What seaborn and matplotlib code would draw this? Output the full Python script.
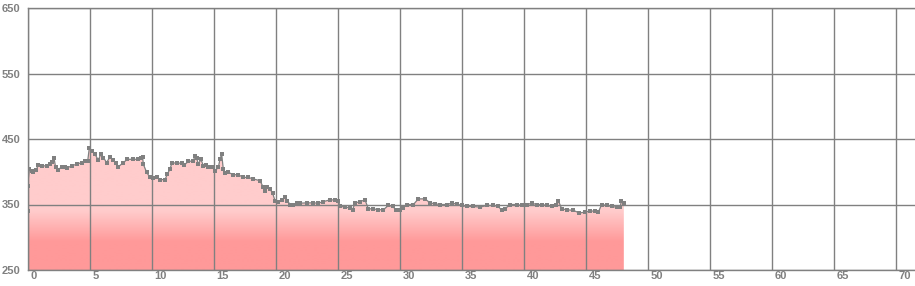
import numpy as np
import pandas as pd
import matplotlib
matplotlib.use("Agg")
import matplotlib.pyplot as plt
import matplotlib.transforms as mtransforms
from matplotlib.patches import Polygon
import seaborn as sns

# ---- data ----
x_vals = [0.0, 0.01, 0.15, 0.34, 0.47, 0.69, 0.87, 1.14, 1.55, 1.81, 2.0, 2.14, 2.27, 2.49,
          2.75, 3.02, 3.16, 3.56, 3.96, 4.37, 4.64, 4.85, 4.99, 5.17, 5.44, 5.71, 5.93, 6.12,
          6.38, 6.65, 6.92, 7.14, 7.33, 7.73, 8.05, 8.53, 8.94, 9.12, 9.28, 9.34, 9.61, 9.88,
          10.15, 10.42, 10.68, 11.09, 11.28, 11.49, 11.63, 12.03, 12.43, 12.65, 12.97, 13.37,
          13.51, 13.64, 13.78, 13.99, 14.18, 14.4, 14.58, 14.85, 15.12, 15.39, 15.52, 15.66,
          15.79, 15.93, 16.2, 16.6, 17.0, 17.4, 17.8, 18.21, 18.75, 19.02, 19.15, 19.29, 19.56,
          19.77, 19.96, 20.23, 20.5, 20.77, 20.96, 21.17, 21.4, 21.7, 21.98, 22.51, 23.05,
          23.45, 23.86, 24.4, 24.8, 25.07, 25.2, 25.6, 26.0, 26.22, 26.4, 26.8, 27.22, 27.49,
          27.89, 28.29, 28.7, 29.1, 29.5, 29.69, 30.04, 30.3, 30.58, 31.12, 31.52, 32.06,
          32.46, 32.86, 33.27, 33.8, 34.2, 34.6, 35.0, 35.42, 35.96, 36.5, 37.03, 37.57,
          37.98, 38.24, 38.51, 38.92, 39.46, 39.86, 40.27, 40.67, 41.07, 41.48, 41.88, 42.28,
          42.63, 42.82, 43.09, 43.49, 44.03, 44.51, 44.97, 45.37, 45.77, 46.04, 46.3, 46.71,
          47.11, 47.52, 47.79, 47.9, 48.09]
y_vals = [340, 379, 404, 401.5, 399, 402.5, 410, 409, 409, 411.6, 415, 420.7, 406.6, 402.5,
          408, 407.6, 405.6, 409, 411.6, 414, 416.7, 415.7, 437, 432, 426.8, 417.7, 427.8, 421.7,
          414, 422.7, 417.7, 413, 407.6, 414, 419, 419, 419, 421.7, 422.7, 411.6, 399, 391.4,
          390.4, 392.4, 388, 388, 396.5, 404, 412.6, 414, 412.6, 410.6, 415.7, 416.7,
          424, 420.7, 411.6, 419, 409, 410.6, 408, 408, 401.5, 406.6, 419, 426.8,
          404, 397.5, 399, 395.5, 395.5, 391.4, 391.4, 389, 386.4, 376, 371, 376, 373.7,
          367, 356, 353.5, 357, 361, 356, 350, 348.5, 352.5, 352, 352.5, 352.5,
          352, 354.5, 357, 357, 356, 347.5, 346, 345, 342, 352, 354.5, 357, 343.4,
          343.4, 342, 342, 348.5, 347, 341, 342, 345, 350, 350, 358.6, 358.6,
          352.5, 351, 350, 350, 352, 351, 348.5, 347, 347, 346, 348.5, 348.5,
          347, 341, 343.4, 350, 350, 348.5, 350, 352, 350, 350, 348.5, 347,
          348.5, 355, 343.4, 342, 341, 337, 338.4, 340, 340, 338.4, 350, 348.5,
          347, 346, 346, 356, 352]
x_ticks = [0, 5, 10, 15, 20, 25, 30, 35, 40, 45, 50, 55, 60, 65, 70]
y_ticks = [250, 350, 450, 550, 650]

df = pd.DataFrame({"x": x_vals, "y": y_vals})

W, H = 915, 286
fig = plt.figure(figsize=(W / 100, H / 100), dpi=100)
sns.set_style("white")
plt.rcParams["font.family"] = ["Liberation Sans", "DejaVu Sans"]

left, right_px, top_px, bottom_px = 27.5, 915, 8, 270
ax = fig.add_axes([left / W, 1 - bottom_px / H, (right_px - left) / W, (bottom_px - top_px) / H])

grey = "#808080"
ymin, ymax = 250, 650
xmax = (right_px - left) / 12.4

# gradient fill clipped to the area under the series
ys = np.linspace(ymin, ymax, 400)
t = np.clip((ys - 293) / (340 - 293), 0, 1)
top_c = np.array([255, 204, 204]) / 255
bot_c = np.array([255, 153, 153]) / 255
cols = bot_c[None, :] * (1 - t[:, None]) + top_c[None, :] * t[:, None]
img = cols[:, None, :]
im = ax.imshow(img, extent=[df.x.min(), df.x.max(), ymin, ymax], origin="lower",
               aspect="auto", zorder=1, interpolation="bilinear")
verts = [(df.x.iloc[0], ymin)] + list(zip(df.x, df.y)) + [(df.x.iloc[-1], ymin)]
poly = Polygon(verts, closed=True, facecolor="none", edgecolor="none", transform=ax.transData)
ax.add_patch(poly)
im.set_clip_path(poly)

sns.lineplot(data=df, x="x", y="y", ax=ax, color=grey, linewidth=0.9, marker="s",
             markersize=2.3, markeredgewidth=0, estimator=None, sort=False, zorder=4)

ax.set_xlim(0, xmax)
ax.set_ylim(ymin, ymax)
ax.set_xlabel("")
ax.set_ylabel("")

ax.set_xticks(x_ticks)
ax.set_yticks(y_ticks)
ax.set_xticklabels([str(v) for v in x_ticks])
ax.set_yticklabels([str(v) for v in y_ticks])
ax.grid(True, color=grey, linewidth=1.0, zorder=2)
ax.set_axisbelow(False)
for line in ax.get_xgridlines() + ax.get_ygridlines():
    line.set_zorder(2)

for s in ["left", "bottom", "top"]:
    ax.spines[s].set_color(grey)
    ax.spines[s].set_linewidth(1.0)
    ax.spines[s].set_zorder(3)
ax.spines["right"].set_visible(False)

tick_len = 6
ax.tick_params(axis="x", direction="out", length=tick_len, width=1.0, color=grey,
               pad=-tick_len + 0.5, labelsize=8, labelcolor=grey)
ax.tick_params(axis="y", length=0, pad=18.5, labelsize=8, labelcolor=grey)
offset = mtransforms.ScaledTranslation(3 / 100, 0, fig.dpi_scale_trans)
for lab in ax.get_xticklabels():
    lab.set_horizontalalignment("left")
    lab.set_fontweight("bold")
    lab.set_transform(lab.get_transform() + offset)
for lab in ax.get_yticklabels():
    lab.set_horizontalalignment("left")
    lab.set_fontweight("bold")

fig.savefig("out.png", dpi=100)
